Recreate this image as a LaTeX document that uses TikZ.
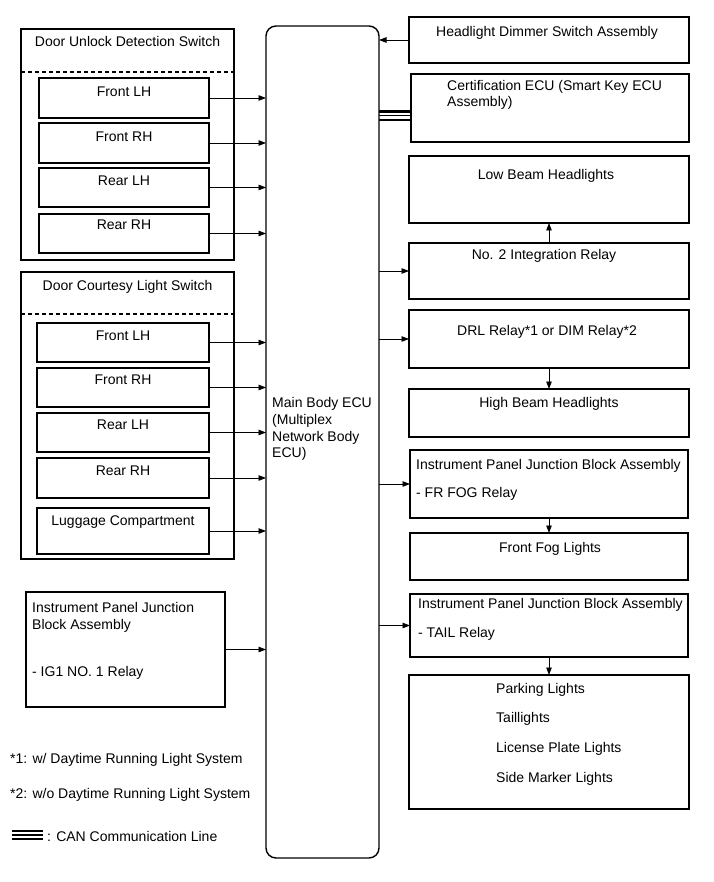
\documentclass[tikz,border=0pt]{standalone}
\usepackage{fontspec}
\setmainfont{Liberation Sans}
\usetikzlibrary{arrows.meta}
\newcommand{\fsz}{\fontsize{14}{17}\selectfont}
\newcommand{\bx}[6][]{%
 \pgfmathsetmacro{\bw}{#5-#3}\pgfmathsetmacro{\bh}{#6-#4}%
 \pgfmathsetmacro{\bcx}{(#3+#5)/2}\pgfmathsetmacro{\bcy}{(#4+#6)/2}%
 \node[box,#1,minimum width=\bw pt,minimum height=\bh pt] (#2) at (\bcx,\bcy) {};}
\begin{document}
\begin{tikzpicture}[x=1pt,y=-1pt,
 box/.style={draw, line width=1.4pt, inner sep=0pt, outer sep=0pt},
 arr/.style={line width=0.8pt, -{Triangle[length=7.5pt,width=5.5pt]}},
 lbl/.style={inner sep=0pt, anchor=base, font=\fsz},
 lbll/.style={inner sep=0pt, anchor=base west, font=\fsz},
 dsh/.style={line width=1.1pt, dash pattern=on 4pt off 3pt},
 can/.style={line width=2.2pt},
 canm/.style={line width=1.1pt}]
\useasboundingbox (0,0) rectangle (713,882);
% main ECU
\bx[rounded corners=10pt]{ecu}{266}{26}{379}{858}
\node[lbll] (e1) at (272,407) {Main Body ECU};
\node[lbll] (e2) at (272,424) {(Multiplex};
\node[lbll] (e3) at (272,441) {Network Body};
\node[lbll] (e4) at (272,457) {ECU)};
% group 1
\bx{g1}{21}{29}{234}{260}
\draw[dsh] (g1.west |- 0,72) coordinate (g1l) -- (g1.east |- 0,72) coordinate (g1r);
\node[lbl] (g1t) at (127.5,47) {Door Unlock Detection Switch};
\bx{u1}{39}{78}{209}{118}
\bx{u2}{39}{123}{209}{163}
\bx{u3}{39}{168}{209}{207}
\bx{u4}{39}{214}{209}{253}
\node[lbl] (u1t) at (124,97) {Front LH};
\node[lbl] (u2t) at (124,142) {Front RH};
\node[lbl] (u3t) at (124,186) {Rear LH};
\node[lbl] (u4t) at (124,230) {Rear RH};
\foreach \n in {u1,u2,u3,u4}{\draw[arr] (\n.east) -- (\n.east -| ecu.west);}
% group 2
\bx{g2}{21}{272}{234}{559}
\draw[dsh] (g2.west |- 0,314) coordinate (g2l) -- (g2.east |- 0,314) coordinate (g2r);
\node[lbl] (g2t) at (127.5,290) {Door Courtesy Light Switch};
\bx{c1}{37}{323}{209}{362}
\bx{c2}{37}{368}{209}{407}
\bx{c3}{37}{413}{209}{452}
\bx{c4}{37}{458}{209}{498}
\bx{c5}{37}{508}{209}{554}
\node[lbl] (c1t) at (123,340) {Front LH};
\node[lbl] (c2t) at (123,384) {Front RH};
\node[lbl] (c3t) at (123,429) {Rear LH};
\node[lbl] (c4t) at (123,475) {Rear RH};
\node[lbl] (c5t) at (123,525) {Luggage Compartment};
\foreach \n in {c1,c2,c3,c4,c5}{\draw[arr] (\n.east) -- (\n.east -| ecu.west);}
% IG1
\bx{ig}{26}{592}{225}{707}
\node[lbll] (ig1) at (32,612) {Instrument Panel Junction};
\node[lbll] (ig2) at (32,629) {Block Assembly};
\node[lbll] (ig3) at (32,676) {- IG1 NO. 1 Relay};
\draw[arr] (ig.east) -- (ig.east -| ecu.west);
% legend
\node[lbll] (n1) at (10,763) {*1: w/ Daytime Running Light System};
\node[lbll] (n2) at (10,798) {*2: w/o Daytime Running Light System};
\draw[can] (12,831) -- (43,831);
\draw[canm] (12,835) -- (43,835);
\draw[can] (12,839) -- (43,839);
\node[lbll] (n3) at (47,841) {: CAN Communication Line};
% right side
\bx{dim}{409}{17}{689}{63}
\node[lbl] (dimt) at (547,37) {Headlight Dimmer Switch Assembly};
\draw[arr] (dim.west) -- (dim.west -| ecu.east);
\bx{cert}{411}{74}{689}{142}
\node[lbll] (cert1) at (447,91) {Certification ECU (Smart Key ECU};
\node[lbll] (cert2) at (447,107) {Assembly)};
\draw[can] (ecu.east |- 0,111.5) -- (cert.west |- 0,111.5);
\draw[canm] (ecu.east |- 0,115.5) -- (cert.west |- 0,115.5);
\draw[can] (ecu.east |- 0,120) -- (cert.west |- 0,120);
\bx{low}{409}{156}{689}{223}
\node[lbl] (lowt) at (546,180) {Low Beam Headlights};
\bx{nr2}{409}{243}{689}{299}
\node[lbl] (nr2t) at (544,259) {No. 2 Integration Relay};
\draw[arr] (ecu.east |- nr2.west) -- (nr2.west);
\draw[arr] (nr2.north) -- (low.south);
\bx{drl}{409}{310}{689}{368}
\node[lbl] (drlt) at (547,335) {DRL Relay*1 or DIM Relay*2};
\draw[arr] (ecu.east |- drl.west) -- (drl.west);
\bx{high}{409}{389}{689}{437}
\node[lbl] (hight) at (549,407) {High Beam Headlights};
\draw[arr] (drl.south) -- (high.north);
\bx{fr}{410}{450}{688}{518}
\node[lbll] (fr1) at (416,469) {Instrument Panel Junction Block Assembly};
\node[lbll] (fr2) at (416,497) {- FR FOG Relay};
\draw[arr] (ecu.east |- fr.west) -- (fr.west);
\bx{ff}{410}{533}{688}{580}
\node[lbl] (fft) at (550,552) {Front Fog Lights};
\draw[arr] (fr.south) -- (ff.north);
\bx{tail}{410}{594}{688}{657}
\node[lbll] (tail1) at (418,608) {Instrument Panel Junction Block Assembly};
\node[lbll] (tail2) at (418,637) {- TAIL Relay};
\draw[arr] (ecu.east |- tail.west) -- (tail.west);
\bx{park}{409}{675}{689}{809}
\node[lbll] (p1) at (496,693) {Parking Lights};
\node[lbll] (p2) at (496,722) {Taillights};
\node[lbll] (p3) at (496,752) {License Plate Lights};
\node[lbll] (p4) at (496,782) {Side Marker Lights};
\draw[arr] (tail.south) -- (park.north);
\end{tikzpicture}
\end{document}
